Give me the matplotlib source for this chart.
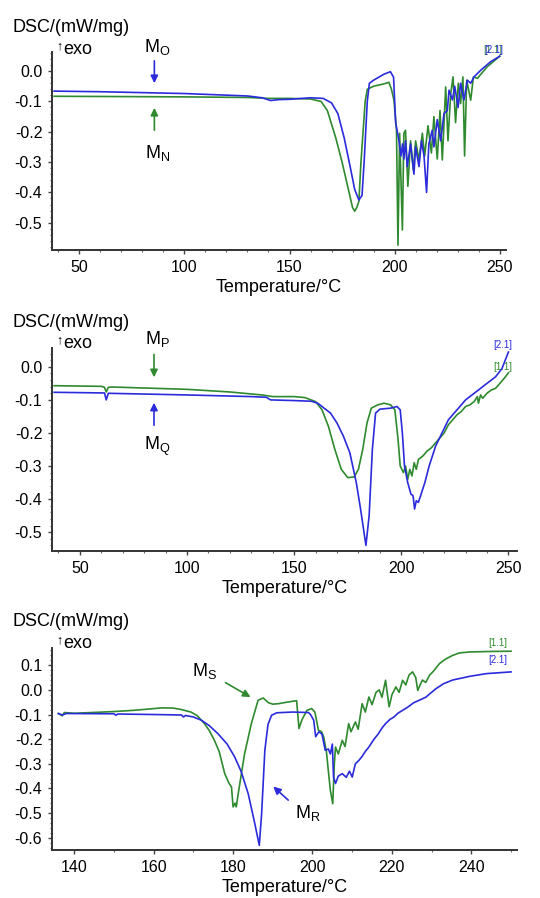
import matplotlib
matplotlib.use('Agg')
import matplotlib.pyplot as plt
from matplotlib.ticker import MultipleLocator, FormatStrFormatter

plt.rcParams['font.family'] = ['Liberation Sans', 'DejaVu Sans']
plt.rcParams['axes.unicode_minus'] = False
plt.rcParams['mathtext.fontset'] = 'custom'
plt.rcParams['mathtext.rm'] = 'Liberation Sans'

BLUE = '#2b2bdc'
GREEN = '#2f8a2f'

# ---- panel 1: M_O (blue) / M_N (green)
t_o = [38, 60, 100, 130, 137, 141, 145, 150, 160, 166, 170, 173, 176, 179, 181, 183, 184.5, 185.5, 187, 188,
       190, 195, 198, 199.5, 200.5, 202.1, 203, 203.8, 204.4, 205.2, 206, 207.6, 209.2, 210, 211.6, 212.8, 214,
       215.2, 216.3, 217.9, 218.7, 220.3, 221.9, 223.5, 225.1, 225.9, 227.5, 228.6, 230.2, 231.4, 233, 234.6,
       236.2, 237.8, 241, 245.7, 250]
v_o = [-0.066, -0.068, -0.074, -0.082, -0.088, -0.097, -0.094, -0.093, -0.088, -0.09, -0.105, -0.14, -0.22,
       -0.32, -0.39, -0.425, -0.41, -0.3, -0.1, -0.04, -0.03, -0.01, -0.002, -0.02, -0.17, -0.23, -0.28, -0.24,
       -0.29, -0.23, -0.315, -0.24, -0.34, -0.25, -0.315, -0.23, -0.28, -0.40, -0.24, -0.195, -0.25, -0.16,
       -0.23, -0.14, -0.13, -0.063, -0.095, -0.05, -0.12, -0.04, -0.095, -0.03, -0.04, -0.019, 0.003, 0.031,
       0.049]
t_n = [38, 100, 130, 140, 150, 160, 165, 168, 172, 175, 178, 180, 181, 182, 183, 184, 186, 187, 190, 195,
       197.3, 198.5, 199.7, 200.9, 201.6, 202.4, 203.7, 204.4, 205.2, 206.3, 207.6, 208.9, 210, 211.6, 213.2,
       214.3, 215.9, 217.5, 218.7, 220.3, 221.6, 222.7, 224.3, 225.4, 226.7, 227.8, 229, 230.3, 231.4, 232.5,
       233.3, 234.3, 236.2, 237.5, 239.4, 244, 250]
v_n = [-0.083, -0.085, -0.087, -0.09, -0.09, -0.092, -0.1, -0.13, -0.22, -0.3, -0.39, -0.45, -0.462, -0.45,
       -0.43, -0.3, -0.1, -0.06, -0.05, -0.042, -0.037, -0.06, -0.096, -0.195, -0.574, -0.205, -0.524, -0.205,
       -0.195, -0.38, -0.23, -0.326, -0.23, -0.293, -0.205, -0.28, -0.18, -0.27, -0.15, -0.29, -0.13, -0.293,
       -0.052, -0.23, -0.074, -0.019, -0.17, -0.04, -0.107, -0.019, -0.28, -0.03, -0.096, -0.019, -0.024,
       0.014, 0.049]

# ---- panel 2: M_P (green) / M_Q (blue)
t_p = [38, 60, 61.5, 62.3, 63.3, 65, 100, 120, 135, 140, 150, 155, 160, 163, 166, 169, 172, 175, 178, 180,
       182, 184, 186, 189, 192, 195, 197, 198.5, 199.5, 201, 202, 203, 204, 205, 206, 207, 208, 210, 212, 214,
       216, 218, 220, 222, 224, 226, 228, 230, 232, 234, 235.5, 236, 237, 238, 240, 242, 244, 246, 248, 250]
v_p = [-0.057, -0.059, -0.062, -0.076, -0.062, -0.061, -0.068, -0.076, -0.085, -0.09, -0.09, -0.093, -0.105,
       -0.13, -0.18, -0.25, -0.31, -0.335, -0.333, -0.31, -0.25, -0.17, -0.125, -0.115, -0.11, -0.115, -0.13,
       -0.22, -0.3, -0.32, -0.30, -0.34, -0.31, -0.33, -0.29, -0.31, -0.28, -0.27, -0.255, -0.245, -0.23, -0.215,
       -0.2, -0.175, -0.16, -0.145, -0.135, -0.12, -0.115, -0.105, -0.09, -0.11, -0.085, -0.095, -0.08, -0.07,
       -0.065, -0.05, -0.035, -0.018]
t_q = [38, 61.5, 62.3, 63.3, 100, 130, 137, 139, 150, 158, 161, 164, 167, 170, 173, 176, 179, 181, 183.5, 185,
       186.5, 188, 190, 195, 198, 199.5, 200.5, 201.5, 203, 204.5, 205.5, 206.2, 207, 208, 209, 211, 213, 216,
       219, 222, 226, 230, 235, 240, 244, 247, 250]
v_q = [-0.077, -0.079, -0.1, -0.08, -0.085, -0.09, -0.092, -0.1, -0.102, -0.104, -0.11, -0.125, -0.14, -0.17,
       -0.21, -0.26, -0.35, -0.43, -0.54, -0.45, -0.25, -0.14, -0.128, -0.125, -0.12, -0.13, -0.2, -0.3, -0.35,
       -0.385, -0.39, -0.43, -0.405, -0.41, -0.39, -0.35, -0.30, -0.24, -0.2, -0.16, -0.13, -0.1, -0.075, -0.05,
       -0.03, -0.005, 0.045]

# ---- panel 3: M_S (green) / M_R (blue)
t_s = [136, 137, 137.5, 140, 150, 155, 160, 162, 165, 167, 169.4, 171, 172.8, 174, 175.3, 176.5, 177.9, 179,
       179.6, 180, 180.5, 180.8, 181.3, 182, 182.9, 184.6, 186.3, 187.6, 188.9, 190, 191.4, 193.9, 196, 196.3,
       196.6, 197.3, 198.6, 199.8, 200.6, 201.5, 202.3, 202.8, 203.5, 204, 204.5, 205.1, 205.5, 205.8, 206.5,
       207.5, 208.2, 209.1, 209.7, 210.8, 211.5, 212.5, 213.3, 214.2, 215, 216, 216.8, 217.5, 218.4, 219.3, 220,
       221, 221.8, 222.7, 223.5, 224.3, 225.2, 226, 226.5, 227.1, 227.7, 228.5, 229.5, 230.3, 232, 233.5, 235.3,
       237, 239.6, 245, 250]
v_s = [-0.096, -0.105, -0.092, -0.095, -0.088, -0.083, -0.076, -0.073, -0.074, -0.08, -0.09, -0.105, -0.137,
       -0.165, -0.205, -0.25, -0.34, -0.38, -0.394, -0.475, -0.46, -0.475, -0.421, -0.35, -0.259, -0.137,
       -0.042, -0.033, -0.052, -0.058, -0.056, -0.049, -0.044, -0.1, -0.157, -0.123, -0.083, -0.076, -0.09,
       -0.164, -0.17, -0.19, -0.25, -0.33, -0.408, -0.462, -0.3, -0.232, -0.26, -0.205, -0.23, -0.137, -0.17,
       -0.13, -0.16, -0.056, -0.09, -0.029, -0.06, -0.01, 0.0, -0.03, 0.039, -0.069, -0.02, 0.012, -0.01, 0.039,
       0.02, 0.06, 0.073, 0.05, -0.002, 0.02, 0.04, 0.03, 0.06, 0.073, 0.107, 0.125, 0.14, 0.15, 0.154, 0.156,
       0.157]
t_r = [136, 137, 138, 150, 150.5, 151, 160, 167, 167.5, 168, 170, 172, 174, 176.2, 178.5, 180.4, 182, 183.8,
       185.3, 186.6, 187.2, 188, 188.8, 189.7, 191, 195, 199, 199.5, 200.3, 200.8, 201.6, 202.4, 203.2, 204,
       204.5, 205, 205.3, 205.8, 206.5, 207.5, 208.5, 209.3, 210, 210.8, 211.7, 212.5, 213.3, 214.2, 215.5,
       216.5, 217.5, 218.4, 219.5, 220.5, 221.5, 222.7, 224, 225.5, 226.9, 228.5, 231.1, 233, 235.3, 239.6,
       243.8, 250]
v_r = [-0.096, -0.102, -0.096, -0.097, -0.103, -0.098, -0.1, -0.102, -0.11, -0.104, -0.11, -0.123, -0.145,
       -0.178, -0.22, -0.272, -0.33, -0.421, -0.53, -0.631, -0.5, -0.245, -0.14, -0.103, -0.093, -0.09, -0.092,
       -0.1, -0.123, -0.19, -0.17, -0.18, -0.245, -0.24, -0.26, -0.22, -0.354, -0.38, -0.35, -0.34, -0.355,
       -0.33, -0.354, -0.3, -0.286, -0.27, -0.25, -0.232, -0.2, -0.18, -0.155, -0.137, -0.12, -0.11, -0.095,
       -0.083, -0.07, -0.052, -0.042, -0.03, 0.005, 0.025, 0.04, 0.055, 0.066, 0.073]

W, H = 540, 898
fig = plt.figure(figsize=(W / 100, H / 100), dpi=100)


def make_axes(left, top, right, bottom, xlim, ylim, xmajor, yticks):
    ax = fig.add_axes([left / W, 1 - bottom / H, (right - left) / W, (bottom - top) / H])
    ax.set_xlim(*xlim)
    ax.set_ylim(*ylim)
    for s in ['top', 'right']:
        ax.spines[s].set_visible(False)
    for s in ['left', 'bottom']:
        ax.spines[s].set_color('#333333')
        ax.spines[s].set_linewidth(1.4)
    ax.xaxis.set_major_locator(MultipleLocator(xmajor))
    ax.xaxis.set_minor_locator(MultipleLocator(10))
    ax.set_yticks(yticks)
    ax.yaxis.set_minor_locator(MultipleLocator(0.02))
    ax.yaxis.set_major_formatter(FormatStrFormatter('%.1f'))
    ax.tick_params(which='major', length=3, width=1, color='#444444', labelsize=11.5, pad=4)
    ax.tick_params(which='minor', length=1.5, width=0.8, color='#666666')
    ax.set_xlabel('Temperature/°C', fontsize=13, labelpad=3)
    return ax


ax1 = make_axes(52, 52, 506, 250, (37, 253), (-0.59, 0.063), 50,
                [0.0, -0.1, -0.2, -0.3, -0.4, -0.5])
ax1.plot(t_n, v_n, color=GREEN, lw=1.2)
ax1.plot(t_o, v_o, color=BLUE, lw=1.2)

ax2 = make_axes(52, 348, 517, 551, (37, 254), (-0.557, 0.057), 50,
                [0.0, -0.1, -0.2, -0.3, -0.4, -0.5])
ax2.plot(t_p, v_p, color=GREEN, lw=1.2)
ax2.plot(t_q, v_q, color=BLUE, lw=1.2)

ax3 = make_axes(52, 648, 517, 850, (134.4, 251.5), (-0.65, 0.17), 20,
                [0.1, 0.0, -0.1, -0.2, -0.3, -0.4, -0.5, -0.6])
ax3.plot(t_s, v_s, color=GREEN, lw=1.2)
ax3.plot(t_r, v_r, color=BLUE, lw=1.2)

# y axis titles
for top in [27, 322, 622]:
    fig.text(12 / W, 1 - top / H, 'DSC/(mW/mg)', fontsize=13, va='center', ha='left')
for top, x0 in [(49, 56), (343, 56), (643, 56)]:
    fig.text(x0 / W, 1 - (top - 3) / H, '↑', fontsize=9, va='center', ha='left')
    fig.text((x0 + 7) / W, 1 - top / H, 'exo', fontsize=13, va='center', ha='left')

# curve markers
arr = dict(arrowstyle='-|>', lw=1.2, mutation_scale=11)
ax1.annotate('', xy=(85.7, -0.049), xytext=(85.7, 0.043), arrowprops=dict(color=BLUE, **arr),
             annotation_clip=False)
ax1.annotate('', xy=(85.7, -0.112), xytext=(85.7, -0.204), arrowprops=dict(color=GREEN, **arr))
ax1.text(87, 0.079, r'$\mathregular{M_O}$', fontsize=13, ha='center', va='center', clip_on=False)
ax1.text(87, -0.27, r'$\mathregular{M_N}$', fontsize=13, ha='center', va='center')

ax2.annotate('', xy=(84.6, -0.04), xytext=(84.6, 0.046), arrowprops=dict(color=GREEN, **arr),
             annotation_clip=False)
ax2.annotate('', xy=(84.6, -0.1), xytext=(84.6, -0.185), arrowprops=dict(color=BLUE, **arr))
ax2.text(86, 0.085, r'$\mathregular{M_P}$', fontsize=13, ha='center', va='center', clip_on=False)
ax2.text(86, -0.24, r'$\mathregular{M_Q}$', fontsize=13, ha='center', va='center')

ax3.annotate('', xy=(185, -0.035), xytext=(177.5, 0.035), arrowprops=dict(color=GREEN, **arr))
ax3.text(172.7, 0.075, r'$\mathregular{M_S}$', fontsize=13, ha='center', va='center')
ax3.annotate('', xy=(189.6, -0.385), xytext=(194.4, -0.455), arrowprops=dict(color=BLUE, **arr))
ax3.text(198.7, -0.5, r'$\mathregular{M_R}$', fontsize=13, ha='center', va='center')

# segment tags at curve ends
ax1.text(246.9, 0.071, '[1.1]', fontsize=7, color=GREEN, ha='center', va='center', clip_on=False)
ax1.text(247.4, 0.071, '[2.1]', fontsize=7, color=BLUE, ha='center', va='center', clip_on=False)
ax2.text(247.5, 0.065, '[2.1]', fontsize=7, color=BLUE, ha='center', va='center', clip_on=False)
ax2.text(247.5, 0.0, '[1.1]', fontsize=7, color=GREEN, ha='center', va='center', clip_on=False)
ax3.text(246.7, 0.19, '[1.1]', fontsize=7, color=GREEN, ha='center', va='center', clip_on=False)
ax3.text(246.7, 0.12, '[2.1]', fontsize=7, color=BLUE, ha='center', va='center', clip_on=False)

fig.savefig('out.png', dpi=100)
